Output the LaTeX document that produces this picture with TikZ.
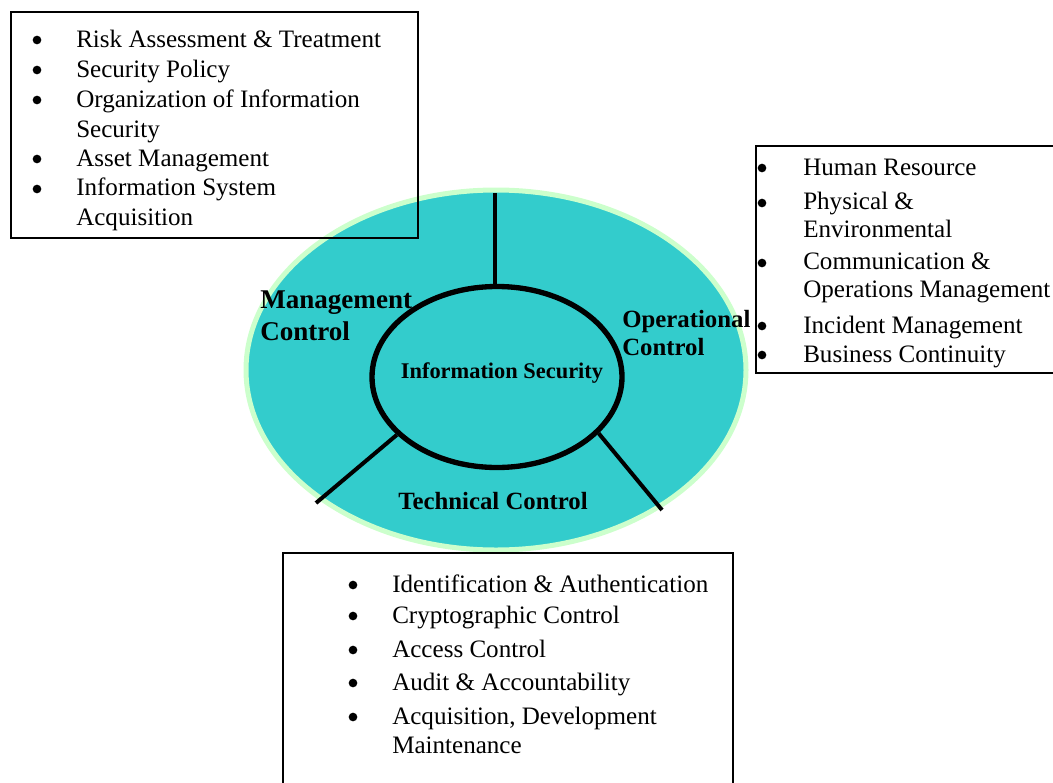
\documentclass[tikz,border=0pt]{standalone}
\usepackage{fontspec}
\setmainfont{Liberation Serif}
\usetikzlibrary{shapes.geometric}
\definecolor{discteal}{HTML}{33CCCC}
\definecolor{discrim}{HTML}{CCFFCC}
\begin{document}
\begin{tikzpicture}[x=0.75pt,y=-0.75pt,
		box/.style={draw=black,line width=1.5pt},
		spoke/.style={draw=black,line width=3pt},
		itemtext/.style={anchor=base west,align=left,inner sep=0pt},
		bulletsign/.style={circle,fill=black,inner sep=0pt,minimum size=6.5pt},
		ctrltext/.style={align=left,inner sep=0pt,anchor=base west}]
			\useasboundingbox (0,0) rectangle (1053,782);
			\node[ellipse,draw=discrim,fill=discteal,line width=3.75pt,inner sep=0pt,minimum width=375pt,minimum height=270pt] (disc) at (496,370) {};
			\node[ellipse,draw=black,line width=4pt,inner sep=0pt,minimum width=187.5pt,minimum height=135.75pt] (core) at (497,377) {};
			\coordinate (spoketop) at (495,193);
			\coordinate (techleft) at (316,503);
			\coordinate (techright) at (662,510);
			\draw[spoke] (core.north -| spoketop) -- (spoketop);
			\draw[spoke] (core.210) -- (techleft);
			\draw[spoke] (core.331) -- (techright);
			% last baseline of each label
			\node[ctrltext,font=\fontsize{20.3}{24}\selectfont\bfseries] (mgmt) at (260,340) {Management\\Control};
			\node[ctrltext,font=\fontsize{18.6}{21}\selectfont\bfseries] (oper) at (622,355) {Operational\\Control};
			\node[anchor=base,inner sep=0pt,font=\fontsize{16.8}{20}\selectfont\bfseries] (infosec) at (502,378) {Information Security};
			\node[anchor=base,inner sep=0pt,font=\fontsize{18.6}{21}\selectfont\bfseries] (tech) at (493,509) {Technical Control};
			% management items
			\draw[box] (11,12) rectangle (418,238);
			\begin{scope}[font=\fontsize{18.8}{22.3}\selectfont]
			\foreach \yb/\yt/\t [count=\i] in {47/47/Risk Assessment \& Treatment, 77/77/Security Policy, 107/137/{Organization of Information\\Security}, 166/166/Asset Management, 196/225/{Information System\\Acquisition}}
			{
				\node[bulletsign] (mgb\i) at (37,\yb-7) {};
				\node[itemtext] (mgi\i) at (76,\yt) {\t};
			}
			\end{scope}
			% operational items
			\draw[box] (756,146) rectangle (1060,373);
			\begin{scope}[font=\fontsize{18.8}{20.3}\selectfont]
			\foreach \yb/\yt/\t [count=\i] in {175/175/Human Resource, 210/237/{Physical \&\\Environmental}, 270/297/{Communication \&\\Operations Management}, 333/333/Incident Management, 362/362/Business Continuity}
			{
				\node[bulletsign] (opb\i) at (762,\yb-7) {};
				\node[itemtext] (opi\i) at (803,\yt) {\t};
			}
			\end{scope}
			% technical items
			\draw[box] (283,553) rectangle (733,790);
			\begin{scope}[font=\fontsize{18.8}{21.5}\selectfont]
			\foreach \yb/\yt/\t [count=\i] in {592/592/Identification \& Authentication, 623/623/Cryptographic Control, 657/657/Access Control, 690/690/Audit \& Accountability, 724/753/{Acquisition, Development\\Maintenance}}
			{
				\node[bulletsign] (tcb\i) at (353,\yb-7) {};
				\node[itemtext] (tci\i) at (392,\yt) {\t};
			}
			\end{scope}
		\end{tikzpicture}
\end{document}
